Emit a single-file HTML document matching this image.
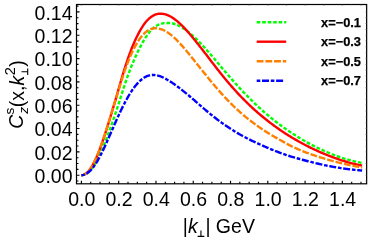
<!DOCTYPE html>
<html><head><meta charset="utf-8"><title>plot</title>
<style>html,body{margin:0;padding:0;background:#fff;}body{width:390px;height:243px;overflow:hidden;position:relative;font-family:"Liberation Sans",sans-serif;}text{fill:#000}</style>
</head><body>
<svg width="390" height="243" viewBox="0 0 390 243" style="position:absolute;left:0;top:0;will-change:transform">
<rect width="390" height="243" fill="#fff"/>
<path d="M81.40,175.20 L82.42,175.10 L83.44,174.88 L84.46,174.55 L85.47,174.10 L86.48,173.54 L87.47,172.86 L88.46,172.06 L89.43,171.16 L90.39,170.15 L91.34,169.03 L92.29,167.81 L93.23,166.48 L94.18,165.05 L95.12,163.53 L96.07,161.91 L97.01,160.21 L97.95,158.41 L98.88,156.53 L99.82,154.58 L100.75,152.54 L101.69,150.44 L102.62,148.26 L103.55,146.03 L104.48,143.73 L105.42,141.38 L106.35,138.97 L107.28,136.52 L108.21,134.02 L109.15,131.49 L110.08,128.92 L111.01,126.32 L111.94,123.68 L112.88,121.00 L113.81,118.30 L114.74,115.57 L115.67,112.83 L116.60,110.07 L117.50,107.31 L118.38,104.55 L119.26,101.79 L120.12,99.04 L120.99,96.31 L121.85,93.59 L122.72,90.87 L123.60,88.17 L124.49,85.49 L125.38,82.84 L126.27,80.22 L127.16,77.65 L128.06,75.11 L128.97,72.63 L129.90,70.20 L130.83,67.83 L131.76,65.51 L132.69,63.25 L133.63,61.04 L134.56,58.88 L135.49,56.78 L136.42,54.73 L137.36,52.73 L138.29,50.79 L139.22,48.91 L140.16,47.09 L141.09,45.32 L142.02,43.61 L142.95,41.95 L143.89,40.35 L144.82,38.81 L145.75,37.32 L146.68,35.90 L147.62,34.55 L148.55,33.26 L149.48,32.05 L150.41,30.91 L151.35,29.88 L152.28,28.95 L153.21,28.11 L154.14,27.35 L155.08,26.66 L156.01,26.03 L156.94,25.46 L157.87,24.95 L158.81,24.51 L159.74,24.14 L160.67,23.84 L161.61,23.58 L162.54,23.37 L163.47,23.19 L164.40,23.08 L165.34,23.02 L166.27,23.01 L167.20,23.02 L168.13,23.04 L169.07,23.06 L170.00,23.11 L170.93,23.20 L171.86,23.34 L172.80,23.52 L173.73,23.75 L174.66,24.01 L175.59,24.32 L176.53,24.67 L177.46,25.06 L178.39,25.48 L179.33,25.94 L180.26,26.43 L181.19,26.96 L182.12,27.52 L183.06,28.11 L183.99,28.72 L184.92,29.36 L185.85,30.03 L186.79,30.71 L187.72,31.43 L188.65,32.16 L189.58,32.91 L190.52,33.69 L191.45,34.49 L192.38,35.31 L193.31,36.15 L194.25,37.01 L195.18,37.88 L196.11,38.78 L197.04,39.69 L197.98,40.62 L198.91,41.57 L199.84,42.54 L200.78,43.52 L201.71,44.51 L202.64,45.52 L203.57,46.53 L204.51,47.55 L205.44,48.59 L206.37,49.63 L207.30,50.68 L208.24,51.74 L209.17,52.80 L210.10,53.87 L211.03,54.95 L211.97,56.03 L212.90,57.12 L213.83,58.21 L214.76,59.31 L215.70,60.42 L216.63,61.52 L217.56,62.63 L218.50,63.74 L219.43,64.85 L220.36,65.96 L221.29,67.07 L222.23,68.18 L223.16,69.29 L224.09,70.39 L225.02,71.49 L225.96,72.59 L226.89,73.68 L227.82,74.76 L228.75,75.84 L229.69,76.91 L230.62,77.98 L231.55,79.04 L232.48,80.09 L233.42,81.14 L234.35,82.19 L235.28,83.23 L236.21,84.26 L237.15,85.29 L238.08,86.31 L239.01,87.32 L239.95,88.33 L240.88,89.33 L241.81,90.33 L242.74,91.32 L243.68,92.30 L244.61,93.27 L245.54,94.24 L246.47,95.20 L247.41,96.15 L248.34,97.10 L249.27,98.03 L250.20,98.96 L251.14,99.89 L252.07,100.80 L253.00,101.71 L253.93,102.61 L254.87,103.51 L255.80,104.39 L256.73,105.27 L257.67,106.15 L258.60,107.01 L259.53,107.87 L260.46,108.72 L261.40,109.56 L262.33,110.40 L263.26,111.23 L264.19,112.05 L265.13,112.86 L266.06,113.66 L266.99,114.46 L267.92,115.25 L268.86,116.03 L269.79,116.80 L270.72,117.57 L271.65,118.33 L272.59,119.08 L273.52,119.82 L274.45,120.56 L275.38,121.29 L276.32,122.02 L277.25,122.73 L278.18,123.44 L279.12,124.14 L280.05,124.84 L280.98,125.53 L281.91,126.21 L282.85,126.89 L283.78,127.56 L284.71,128.22 L285.64,128.87 L286.58,129.52 L287.51,130.16 L288.44,130.80 L289.37,131.43 L290.31,132.05 L291.24,132.67 L292.17,133.28 L293.10,133.89 L294.04,134.49 L294.97,135.09 L295.90,135.68 L296.84,136.27 L297.77,136.85 L298.70,137.43 L299.63,138.00 L300.57,138.56 L301.50,139.12 L302.43,139.68 L303.36,140.23 L304.30,140.77 L305.23,141.30 L306.16,141.84 L307.09,142.36 L308.03,142.88 L308.96,143.39 L309.89,143.90 L310.82,144.40 L311.76,144.89 L312.69,145.38 L313.62,145.86 L314.55,146.34 L315.49,146.81 L316.42,147.27 L317.35,147.73 L318.29,148.18 L319.22,148.62 L320.15,149.06 L321.08,149.49 L322.02,149.91 L322.95,150.33 L323.88,150.75 L324.81,151.16 L325.75,151.56 L326.68,151.96 L327.61,152.36 L328.54,152.75 L329.48,153.14 L330.41,153.52 L331.34,153.89 L332.27,154.27 L333.21,154.63 L334.14,155.00 L335.07,155.36 L336.01,155.71 L336.94,156.06 L337.87,156.41 L338.80,156.75 L339.74,157.08 L340.67,157.41 L341.60,157.73 L342.53,158.03 L343.47,158.33 L344.40,158.61 L345.33,158.88 L346.26,159.15 L347.20,159.40 L348.13,159.66 L349.06,159.91 L349.99,160.15 L350.93,160.39 L351.86,160.64 L352.79,160.88 L353.72,161.11 L354.66,161.34 L355.59,161.57 L356.52,161.79 L357.46,162.01 L358.39,162.22 L359.32,162.42 L360.25,162.63 L361.19,162.83 L362.12,163.02" fill="none" stroke="#00ff00" stroke-width="2.4" stroke-dasharray="3.6 1.9" stroke-linejoin="round"/>
<path d="M81.40,175.20 L82.42,175.08 L83.44,174.81 L84.46,174.39 L85.47,173.82 L86.48,173.10 L87.47,172.23 L88.46,171.22 L89.43,170.07 L90.39,168.78 L91.34,167.35 L92.29,165.80 L93.23,164.11 L94.18,162.31 L95.12,160.39 L96.07,158.35 L97.01,156.21 L97.95,153.96 L98.88,151.61 L99.82,149.18 L100.75,146.66 L101.69,144.05 L102.62,141.38 L103.55,138.63 L104.48,135.82 L105.42,132.95 L106.35,130.04 L107.28,127.08 L108.21,124.07 L109.15,121.04 L110.08,117.98 L111.01,114.89 L111.94,111.79 L112.88,108.68 L113.81,105.56 L114.74,102.43 L115.67,99.29 L116.60,96.16 L117.50,93.04 L118.38,89.93 L119.26,86.85 L120.12,83.79 L120.99,80.76 L121.85,77.77 L122.72,74.82 L123.60,71.91 L124.49,69.06 L125.38,66.26 L126.27,63.51 L127.16,60.82 L128.06,58.18 L128.97,55.61 L129.90,53.10 L130.83,50.65 L131.76,48.28 L132.69,45.99 L133.63,43.77 L134.56,41.63 L135.49,39.57 L136.42,37.59 L137.36,35.68 L138.29,33.86 L139.22,32.11 L140.16,30.44 L141.09,28.84 L142.02,27.33 L142.95,25.90 L143.89,24.55 L144.82,23.28 L145.75,22.09 L146.68,21.00 L147.62,19.98 L148.55,19.06 L149.48,18.21 L150.41,17.44 L151.35,16.75 L152.28,16.14 L153.21,15.59 L154.14,15.12 L155.08,14.70 L156.01,14.36 L156.94,14.09 L157.87,13.89 L158.81,13.76 L159.74,13.69 L160.67,13.68 L161.61,13.72 L162.54,13.82 L163.47,13.96 L164.40,14.15 L165.34,14.39 L166.27,14.67 L167.20,15.00 L168.13,15.38 L169.07,15.80 L170.00,16.27 L170.93,16.79 L171.86,17.34 L172.80,17.93 L173.73,18.56 L174.66,19.23 L175.59,19.93 L176.53,20.66 L177.46,21.43 L178.39,22.23 L179.33,23.06 L180.26,23.92 L181.19,24.81 L182.12,25.72 L183.06,26.66 L183.99,27.62 L184.92,28.61 L185.85,29.61 L186.79,30.64 L187.72,31.68 L188.65,32.74 L189.58,33.82 L190.52,34.91 L191.45,36.01 L192.38,37.13 L193.31,38.26 L194.25,39.40 L195.18,40.56 L196.11,41.72 L197.04,42.88 L197.98,44.06 L198.91,45.24 L199.84,46.43 L200.78,47.62 L201.71,48.82 L202.64,50.02 L203.57,51.22 L204.51,52.42 L205.44,53.63 L206.37,54.84 L207.30,56.05 L208.24,57.27 L209.17,58.49 L210.10,59.71 L211.03,60.93 L211.97,62.15 L212.90,63.37 L213.83,64.58 L214.76,65.79 L215.70,67.00 L216.63,68.20 L217.56,69.40 L218.50,70.59 L219.43,71.78 L220.36,72.95 L221.29,74.12 L222.23,75.28 L223.16,76.43 L224.09,77.57 L225.02,78.70 L225.96,79.82 L226.89,80.93 L227.82,82.03 L228.75,83.12 L229.69,84.21 L230.62,85.28 L231.55,86.35 L232.48,87.41 L233.42,88.46 L234.35,89.50 L235.28,90.53 L236.21,91.55 L237.15,92.57 L238.08,93.57 L239.01,94.56 L239.95,95.55 L240.88,96.53 L241.81,97.50 L242.74,98.45 L243.68,99.40 L244.61,100.34 L245.54,101.27 L246.47,102.20 L247.41,103.11 L248.34,104.01 L249.27,104.91 L250.20,105.80 L251.14,106.67 L252.07,107.54 L253.00,108.40 L253.93,109.25 L254.87,110.10 L255.80,110.93 L256.73,111.75 L257.67,112.57 L258.60,113.38 L259.53,114.18 L260.46,114.97 L261.40,115.75 L262.33,116.53 L263.26,117.29 L264.19,118.05 L265.13,118.80 L266.06,119.55 L266.99,120.28 L267.92,121.01 L268.86,121.73 L269.79,122.45 L270.72,123.15 L271.65,123.86 L272.59,124.55 L273.52,125.24 L274.45,125.93 L275.38,126.60 L276.32,127.27 L277.25,127.94 L278.18,128.60 L279.12,129.25 L280.05,129.90 L280.98,130.54 L281.91,131.17 L282.85,131.80 L283.78,132.42 L284.71,133.03 L285.64,133.64 L286.58,134.24 L287.51,134.83 L288.44,135.42 L289.37,136.00 L290.31,136.57 L291.24,137.13 L292.17,137.69 L293.10,138.25 L294.04,138.80 L294.97,139.34 L295.90,139.88 L296.84,140.41 L297.77,140.94 L298.70,141.46 L299.63,141.98 L300.57,142.49 L301.50,143.00 L302.43,143.50 L303.36,144.00 L304.30,144.49 L305.23,144.98 L306.16,145.46 L307.09,145.94 L308.03,146.41 L308.96,146.88 L309.89,147.34 L310.82,147.80 L311.76,148.26 L312.69,148.71 L313.62,149.15 L314.55,149.59 L315.49,150.03 L316.42,150.46 L317.35,150.88 L318.29,151.30 L319.22,151.72 L320.15,152.13 L321.08,152.54 L322.02,152.94 L322.95,153.34 L323.88,153.73 L324.81,154.12 L325.75,154.50 L326.68,154.88 L327.61,155.25 L328.54,155.62 L329.48,155.98 L330.41,156.34 L331.34,156.70 L332.27,157.05 L333.21,157.39 L334.14,157.74 L335.07,158.07 L336.01,158.41 L336.94,158.74 L337.87,159.06 L338.80,159.39 L339.74,159.70 L340.67,160.02 L341.60,160.32 L342.53,160.62 L343.47,160.91 L344.40,161.20 L345.33,161.48 L346.26,161.75 L347.20,162.02 L348.13,162.29 L349.06,162.54 L349.99,162.80 L350.93,163.05 L351.86,163.29 L352.79,163.54 L353.72,163.77 L354.66,164.00 L355.59,164.22 L356.52,164.44 L357.46,164.65 L358.39,164.86 L359.32,165.06 L360.25,165.25 L361.19,165.45 L362.12,165.63" fill="none" stroke="#ff0000" stroke-width="2.4" stroke-linejoin="round"/>
<path d="M81.40,175.20 L82.42,175.08 L83.44,174.80 L84.46,174.37 L85.47,173.78 L86.48,173.04 L87.47,172.15 L88.46,171.11 L89.43,169.92 L90.39,168.60 L91.34,167.14 L92.29,165.55 L93.23,163.83 L94.18,161.98 L95.12,160.02 L96.07,157.95 L97.01,155.78 L97.95,153.50 L98.88,151.13 L99.82,148.67 L100.75,146.13 L101.69,143.51 L102.62,140.83 L103.55,138.08 L104.48,135.28 L105.42,132.43 L106.35,129.53 L107.28,126.60 L108.21,123.64 L109.15,120.65 L110.08,117.65 L111.01,114.64 L111.94,111.62 L112.88,108.60 L113.81,105.58 L114.74,102.58 L115.67,99.59 L116.60,96.63 L117.50,93.69 L118.38,90.78 L119.26,87.91 L120.12,85.08 L120.99,82.29 L121.85,79.54 L122.72,76.83 L123.60,74.17 L124.49,71.56 L125.38,69.01 L126.27,66.52 L127.16,64.09 L128.06,61.73 L128.97,59.45 L129.90,57.23 L130.83,55.09 L131.76,53.03 L132.69,51.05 L133.63,49.16 L134.56,47.35 L135.49,45.63 L136.42,43.99 L137.36,42.43 L138.29,40.95 L139.22,39.55 L140.16,38.24 L141.09,37.01 L142.02,35.86 L142.95,34.79 L143.89,33.80 L144.82,32.90 L145.75,32.08 L146.68,31.35 L147.62,30.70 L148.55,30.14 L149.48,29.66 L150.41,29.25 L151.35,28.92 L152.28,28.65 L153.21,28.45 L154.14,28.31 L155.08,28.25 L156.01,28.26 L156.94,28.32 L157.87,28.44 L158.81,28.60 L159.74,28.80 L160.67,29.05 L161.61,29.34 L162.54,29.69 L163.47,30.09 L164.40,30.53 L165.34,31.03 L166.27,31.56 L167.20,32.14 L168.13,32.76 L169.07,33.42 L170.00,34.12 L170.93,34.85 L171.86,35.62 L172.80,36.41 L173.73,37.25 L174.66,38.10 L175.59,38.99 L176.53,39.91 L177.46,40.84 L178.39,41.81 L179.33,42.79 L180.26,43.80 L181.19,44.82 L182.12,45.86 L183.06,46.92 L183.99,47.99 L184.92,49.08 L185.85,50.18 L186.79,51.29 L187.72,52.41 L188.65,53.55 L189.58,54.69 L190.52,55.84 L191.45,56.99 L192.38,58.15 L193.31,59.31 L194.25,60.48 L195.18,61.65 L196.11,62.83 L197.04,64.00 L197.98,65.18 L198.91,66.35 L199.84,67.53 L200.78,68.70 L201.71,69.87 L202.64,71.04 L203.57,72.21 L204.51,73.37 L205.44,74.53 L206.37,75.68 L207.30,76.83 L208.24,77.98 L209.17,79.12 L210.10,80.26 L211.03,81.39 L211.97,82.52 L212.90,83.64 L213.83,84.75 L214.76,85.86 L215.70,86.96 L216.63,88.05 L217.56,89.13 L218.50,90.21 L219.43,91.27 L220.36,92.33 L221.29,93.37 L222.23,94.41 L223.16,95.44 L224.09,96.45 L225.02,97.46 L225.96,98.45 L226.89,99.43 L227.82,100.40 L228.75,101.36 L229.69,102.31 L230.62,103.25 L231.55,104.18 L232.48,105.09 L233.42,106.00 L234.35,106.89 L235.28,107.78 L236.21,108.65 L237.15,109.51 L238.08,110.37 L239.01,111.21 L239.95,112.04 L240.88,112.86 L241.81,113.68 L242.74,114.48 L243.68,115.27 L244.61,116.06 L245.54,116.83 L246.47,117.60 L247.41,118.35 L248.34,119.10 L249.27,119.83 L250.20,120.56 L251.14,121.28 L252.07,121.99 L253.00,122.69 L253.93,123.39 L254.87,124.07 L255.80,124.75 L256.73,125.42 L257.67,126.08 L258.60,126.74 L259.53,127.38 L260.46,128.02 L261.40,128.66 L262.33,129.28 L263.26,129.90 L264.19,130.51 L265.13,131.12 L266.06,131.72 L266.99,132.31 L267.92,132.89 L268.86,133.47 L269.79,134.05 L270.72,134.61 L271.65,135.18 L272.59,135.73 L273.52,136.28 L274.45,136.82 L275.38,137.36 L276.32,137.90 L277.25,138.42 L278.18,138.95 L279.12,139.47 L280.05,140.00 L280.98,140.53 L281.91,141.06 L282.85,141.59 L283.78,142.12 L284.71,142.64 L285.64,143.16 L286.58,143.68 L287.51,144.18 L288.44,144.68 L289.37,145.17 L290.31,145.64 L291.24,146.10 L292.17,146.54 L293.10,146.98 L294.04,147.41 L294.97,147.84 L295.90,148.26 L296.84,148.67 L297.77,149.08 L298.70,149.49 L299.63,149.89 L300.57,150.28 L301.50,150.67 L302.43,151.05 L303.36,151.42 L304.30,151.79 L305.23,152.15 L306.16,152.51 L307.09,152.86 L308.03,153.21 L308.96,153.55 L309.89,153.88 L310.82,154.21 L311.76,154.53 L312.69,154.85 L313.62,155.17 L314.55,155.48 L315.49,155.79 L316.42,156.10 L317.35,156.40 L318.29,156.70 L319.22,157.00 L320.15,157.30 L321.08,157.59 L322.02,157.88 L322.95,158.17 L323.88,158.45 L324.81,158.74 L325.75,159.01 L326.68,159.29 L327.61,159.56 L328.54,159.83 L329.48,160.10 L330.41,160.36 L331.34,160.62 L332.27,160.88 L333.21,161.14 L334.14,161.39 L335.07,161.64 L336.01,161.88 L336.94,162.13 L337.87,162.37 L338.80,162.60 L339.74,162.84 L340.67,163.07 L341.60,163.29 L342.53,163.52 L343.47,163.73 L344.40,163.95 L345.33,164.16 L346.26,164.37 L347.20,164.57 L348.13,164.77 L349.06,164.97 L349.99,165.17 L350.93,165.36 L351.86,165.55 L352.79,165.74 L353.72,165.93 L354.66,166.11 L355.59,166.30 L356.52,166.47 L357.46,166.65 L358.39,166.82 L359.32,166.99 L360.25,167.16 L361.19,167.32 L362.12,167.49" fill="none" stroke="#ff8000" stroke-width="2.4" stroke-dasharray="6.8 1.9" stroke-linejoin="round"/>
<path d="M81.40,175.20 L82.42,175.11 L83.43,174.90 L84.45,174.60 L85.45,174.18 L86.46,173.66 L87.45,173.04 L88.44,172.31 L89.42,171.49 L90.39,170.56 L91.35,169.53 L92.31,168.42 L93.27,167.21 L94.23,165.91 L95.18,164.53 L96.14,163.06 L97.09,161.52 L98.03,159.91 L98.98,158.23 L99.92,156.49 L100.85,154.69 L101.79,152.83 L102.72,150.93 L103.65,148.98 L104.58,146.98 L105.52,144.96 L106.45,142.90 L107.38,140.82 L108.31,138.71 L109.25,136.59 L110.18,134.46 L111.11,132.32 L112.04,130.18 L112.98,128.04 L113.91,125.91 L114.84,123.79 L115.77,121.68 L116.71,119.59 L117.64,117.52 L118.57,115.48 L119.50,113.47 L120.44,111.48 L121.37,109.54 L122.30,107.63 L123.24,105.76 L124.17,103.93 L125.10,102.15 L126.02,100.42 L126.95,98.74 L127.88,97.10 L128.80,95.52 L129.72,94.00 L130.65,92.53 L131.57,91.12 L132.49,89.76 L133.41,88.47 L134.33,87.23 L135.25,86.05 L136.16,84.94 L137.07,83.88 L137.97,82.88 L138.87,81.95 L139.77,81.07 L140.66,80.26 L141.56,79.50 L142.45,78.80 L143.34,78.17 L144.23,77.59 L145.13,77.06 L146.02,76.60 L146.90,76.20 L147.78,75.86 L148.66,75.58 L149.55,75.36 L150.44,75.20 L151.35,75.09 L152.28,75.02 L153.21,75.01 L154.14,75.04 L155.08,75.11 L156.01,75.23 L156.94,75.40 L157.87,75.61 L158.81,75.86 L159.74,76.15 L160.67,76.49 L161.61,76.85 L162.54,77.25 L163.47,77.68 L164.40,78.14 L165.34,78.63 L166.27,79.14 L167.20,79.67 L168.13,80.22 L169.07,80.79 L170.00,81.37 L170.93,81.97 L171.86,82.58 L172.80,83.20 L173.73,83.84 L174.66,84.49 L175.59,85.15 L176.53,85.82 L177.46,86.51 L178.39,87.21 L179.33,87.91 L180.26,88.63 L181.19,89.36 L182.12,90.09 L183.06,90.84 L183.99,91.60 L184.92,92.36 L185.85,93.13 L186.79,93.90 L187.72,94.67 L188.65,95.44 L189.58,96.21 L190.52,96.99 L191.45,97.77 L192.38,98.56 L193.31,99.37 L194.25,100.18 L195.18,101.00 L196.11,101.82 L197.04,102.65 L197.98,103.47 L198.91,104.29 L199.84,105.11 L200.78,105.92 L201.71,106.73 L202.64,107.54 L203.57,108.34 L204.51,109.14 L205.44,109.93 L206.37,110.72 L207.30,111.50 L208.24,112.27 L209.17,113.04 L210.10,113.81 L211.03,114.56 L211.97,115.31 L212.90,116.06 L213.83,116.80 L214.76,117.53 L215.70,118.25 L216.63,118.97 L217.56,119.68 L218.50,120.38 L219.43,121.07 L220.36,121.76 L221.29,122.44 L222.23,123.11 L223.16,123.78 L224.09,124.44 L225.02,125.09 L225.96,125.73 L226.89,126.36 L227.82,126.99 L228.75,127.61 L229.69,128.22 L230.62,128.83 L231.55,129.43 L232.48,130.02 L233.42,130.60 L234.35,131.18 L235.28,131.74 L236.21,132.30 L237.15,132.86 L238.08,133.40 L239.01,133.94 L239.95,134.48 L240.88,135.00 L241.81,135.52 L242.74,136.03 L243.68,136.54 L244.61,137.04 L245.54,137.53 L246.47,138.02 L247.41,138.50 L248.34,138.97 L249.27,139.44 L250.20,139.90 L251.14,140.35 L252.07,140.80 L253.00,141.24 L253.93,141.68 L254.87,142.11 L255.80,142.54 L256.73,142.97 L257.67,143.40 L258.60,143.83 L259.53,144.25 L260.46,144.68 L261.40,145.10 L262.33,145.52 L263.26,145.94 L264.19,146.35 L265.13,146.76 L266.06,147.17 L266.99,147.57 L267.92,147.97 L268.86,148.37 L269.79,148.75 L270.72,149.14 L271.65,149.51 L272.59,149.88 L273.52,150.25 L274.45,150.62 L275.38,150.99 L276.32,151.35 L277.25,151.71 L278.18,152.07 L279.12,152.43 L280.05,152.78 L280.98,153.13 L281.91,153.47 L282.85,153.81 L283.78,154.14 L284.71,154.47 L285.64,154.79 L286.58,155.10 L287.51,155.41 L288.44,155.72 L289.37,156.01 L290.31,156.30 L291.24,156.58 L292.17,156.86 L293.10,157.14 L294.04,157.41 L294.97,157.68 L295.90,157.95 L296.84,158.22 L297.77,158.48 L298.70,158.75 L299.63,159.01 L300.57,159.26 L301.50,159.52 L302.43,159.77 L303.36,160.02 L304.30,160.27 L305.23,160.52 L306.16,160.76 L307.09,161.01 L308.03,161.25 L308.96,161.48 L309.89,161.72 L310.82,161.95 L311.76,162.19 L312.69,162.42 L313.62,162.64 L314.55,162.87 L315.49,163.09 L316.42,163.32 L317.35,163.54 L318.29,163.76 L319.22,163.97 L320.15,164.19 L321.08,164.40 L322.02,164.61 L322.95,164.81 L323.88,165.01 L324.81,165.20 L325.75,165.39 L326.68,165.58 L327.61,165.77 L328.54,165.95 L329.48,166.12 L330.41,166.30 L331.34,166.47 L332.27,166.64 L333.21,166.81 L334.14,166.97 L335.07,167.13 L336.01,167.29 L336.94,167.45 L337.87,167.61 L338.80,167.76 L339.74,167.91 L340.67,168.06 L341.60,168.21 L342.53,168.35 L343.47,168.48 L344.40,168.62 L345.33,168.74 L346.26,168.87 L347.20,168.99 L348.13,169.11 L349.06,169.22 L349.99,169.34 L350.93,169.45 L351.86,169.56 L352.79,169.66 L353.72,169.76 L354.66,169.86 L355.59,169.96 L356.52,170.05 L357.46,170.14 L358.39,170.23 L359.32,170.31 L360.25,170.39 L361.19,170.46 L362.12,170.54" fill="none" stroke="#0000ff" stroke-width="2.4" stroke-dasharray="3.6 1.7 7 1.8" stroke-linejoin="round"/>
<rect x="76.5" y="4.5" width="290.15" height="179.30" fill="none" stroke="#000" stroke-width="1.2"/>
<path d="M81.40,183.8 v-3.0 M90.72,183.8 v-2.0 M100.04,183.8 v-2.0 M109.36,183.8 v-2.0 M118.68,183.8 v-3.0 M128.00,183.8 v-2.0 M137.32,183.8 v-2.0 M146.64,183.8 v-2.0 M155.96,183.8 v-3.0 M165.28,183.8 v-2.0 M174.60,183.8 v-2.0 M183.92,183.8 v-2.0 M193.24,183.8 v-3.0 M202.56,183.8 v-2.0 M211.88,183.8 v-2.0 M221.20,183.8 v-2.0 M230.52,183.8 v-3.0 M239.84,183.8 v-2.0 M249.16,183.8 v-2.0 M258.48,183.8 v-2.0 M267.80,183.8 v-3.0 M277.12,183.8 v-2.0 M286.44,183.8 v-2.0 M295.76,183.8 v-2.0 M305.08,183.8 v-3.0 M314.40,183.8 v-2.0 M323.72,183.8 v-2.0 M333.04,183.8 v-2.0 M342.36,183.8 v-3.0 M351.68,183.8 v-2.0 M361.00,183.8 v-2.0 M76.5,181.03 h2.0 M76.5,175.20 h3.0 M76.5,169.37 h2.0 M76.5,163.53 h2.0 M76.5,157.70 h2.0 M76.5,151.87 h3.0 M76.5,146.04 h2.0 M76.5,140.20 h2.0 M76.5,134.37 h2.0 M76.5,128.54 h3.0 M76.5,122.71 h2.0 M76.5,116.87 h2.0 M76.5,111.04 h2.0 M76.5,105.21 h3.0 M76.5,99.38 h2.0 M76.5,93.54 h2.0 M76.5,87.71 h2.0 M76.5,81.88 h3.0 M76.5,76.05 h2.0 M76.5,70.21 h2.0 M76.5,64.38 h2.0 M76.5,58.55 h3.0 M76.5,52.72 h2.0 M76.5,46.88 h2.0 M76.5,41.05 h2.0 M76.5,35.22 h3.0 M76.5,29.39 h2.0 M76.5,23.55 h2.0 M76.5,17.72 h2.0 M76.5,11.89 h3.0 M76.5,6.06 h2.0" stroke="#000" stroke-width="1.15" fill="none"/>
<path d="M81.40,4.5 v1.6 M90.72,4.5 v0.9 M100.04,4.5 v1.6 M109.36,4.5 v0.9 M118.68,4.5 v1.6 M128.00,4.5 v0.9 M137.32,4.5 v1.6 M146.64,4.5 v0.9 M155.96,4.5 v1.6 M165.28,4.5 v0.9 M174.60,4.5 v1.6 M183.92,4.5 v0.9 M193.24,4.5 v1.6 M202.56,4.5 v0.9 M211.88,4.5 v1.6 M221.20,4.5 v0.9 M230.52,4.5 v1.6 M239.84,4.5 v0.9 M249.16,4.5 v1.6 M258.48,4.5 v0.9 M267.80,4.5 v1.6 M277.12,4.5 v0.9 M286.44,4.5 v1.6 M295.76,4.5 v0.9 M305.08,4.5 v1.6 M314.40,4.5 v0.9 M323.72,4.5 v1.6 M333.04,4.5 v0.9 M342.36,4.5 v1.6 M351.68,4.5 v0.9 M361.00,4.5 v1.6 M366.65,181.03 h-1.4 M366.65,175.20 h-1.4 M366.65,169.37 h-1.4 M366.65,163.53 h-1.4 M366.65,157.70 h-1.4 M366.65,151.87 h-1.4 M366.65,146.04 h-1.4 M366.65,140.20 h-1.4 M366.65,134.37 h-1.4 M366.65,128.54 h-1.4 M366.65,122.71 h-1.4 M366.65,116.87 h-1.4 M366.65,111.04 h-1.4 M366.65,105.21 h-1.4 M366.65,99.38 h-1.4 M366.65,93.54 h-1.4 M366.65,87.71 h-1.4 M366.65,81.88 h-1.4 M366.65,76.05 h-1.4 M366.65,70.21 h-1.4 M366.65,64.38 h-1.4 M366.65,58.55 h-1.4 M366.65,52.72 h-1.4 M366.65,46.88 h-1.4 M366.65,41.05 h-1.4 M366.65,35.22 h-1.4 M366.65,29.39 h-1.4 M366.65,23.55 h-1.4 M366.65,17.72 h-1.4 M366.65,11.89 h-1.4 M366.65,6.06 h-1.4" stroke="#666" stroke-width="0.5" fill="none"/>
<path d="M256.7,22.3 H286.2" fill="none" stroke="#00ff00" stroke-width="2.4" stroke-dasharray="3.6 1.9"/>
<path d="M256.7,41.7 H286.2" fill="none" stroke="#ff0000" stroke-width="2.4"/>
<path d="M256.7,61.2 H286.2" fill="none" stroke="#ff8000" stroke-width="2.4" stroke-dasharray="6.8 1.9"/>
<path d="M256.7,80.7 H284.6" fill="none" stroke="#0000ff" stroke-width="2.4" stroke-dasharray="3.6 1.7 7 1.8"/>
<text x="72.5" y="183.10" font-family="Liberation Sans, sans-serif" font-size="19.5" text-anchor="end">0.00</text>
<text x="72.5" y="159.77" font-family="Liberation Sans, sans-serif" font-size="19.5" text-anchor="end">0.02</text>
<text x="72.5" y="136.44" font-family="Liberation Sans, sans-serif" font-size="19.5" text-anchor="end">0.04</text>
<text x="72.5" y="113.11" font-family="Liberation Sans, sans-serif" font-size="19.5" text-anchor="end">0.06</text>
<text x="72.5" y="89.78" font-family="Liberation Sans, sans-serif" font-size="19.5" text-anchor="end">0.08</text>
<text x="72.5" y="66.45" font-family="Liberation Sans, sans-serif" font-size="19.5" text-anchor="end">0.10</text>
<text x="72.5" y="43.12" font-family="Liberation Sans, sans-serif" font-size="19.5" text-anchor="end">0.12</text>
<text x="72.5" y="19.79" font-family="Liberation Sans, sans-serif" font-size="19.5" text-anchor="end">0.14</text>
<text x="81.70" y="205.7" font-family="Liberation Sans, sans-serif" font-size="19.5" text-anchor="middle">0.0</text>
<text x="118.98" y="205.7" font-family="Liberation Sans, sans-serif" font-size="19.5" text-anchor="middle">0.2</text>
<text x="156.26" y="205.7" font-family="Liberation Sans, sans-serif" font-size="19.5" text-anchor="middle">0.4</text>
<text x="193.54" y="205.7" font-family="Liberation Sans, sans-serif" font-size="19.5" text-anchor="middle">0.6</text>
<text x="230.82" y="205.7" font-family="Liberation Sans, sans-serif" font-size="19.5" text-anchor="middle">0.8</text>
<text x="268.10" y="205.7" font-family="Liberation Sans, sans-serif" font-size="19.5" text-anchor="middle">1.0</text>
<text x="305.38" y="205.7" font-family="Liberation Sans, sans-serif" font-size="19.5" text-anchor="middle">1.2</text>
<text x="342.66" y="205.7" font-family="Liberation Sans, sans-serif" font-size="19.5" text-anchor="middle">1.4</text>
<text x="321.0" y="26.90" font-family="Liberation Sans, sans-serif" font-size="12.85" font-weight="bold" stroke="#000" stroke-width="0.25">x=−0.1</text>
<text x="321.0" y="46.30" font-family="Liberation Sans, sans-serif" font-size="12.85" font-weight="bold" stroke="#000" stroke-width="0.25">x=−0.3</text>
<text x="321.0" y="65.80" font-family="Liberation Sans, sans-serif" font-size="12.85" font-weight="bold" stroke="#000" stroke-width="0.25">x=−0.5</text>
<text x="321.0" y="85.30" font-family="Liberation Sans, sans-serif" font-size="12.85" font-weight="bold" stroke="#000" stroke-width="0.25">x=−0.7</text>
<text x="182.8" y="232.7" font-family="Liberation Sans, sans-serif" font-size="19.5">|<tspan font-style="italic">k</tspan></text>
<path d="M197.6,236.39999999999998 h6.7 M200.95,236.39999999999998 v-5.8" stroke="#000" stroke-width="1.1" fill="none"/>
<text x="205.4" y="232.7" font-family="Liberation Sans, sans-serif" font-size="19.5">| GeV</text>
<g transform="translate(23.5,127) rotate(-90)"><text x="-1.8" y="-0.5" font-family="Liberation Sans, sans-serif" font-size="19.5" font-style="italic">C</text><text x="12.5" y="-9.3" font-family="Liberation Sans, sans-serif" font-size="13.65">s</text><text x="13.2" y="4.8" font-family="Liberation Sans, sans-serif" font-size="13.65" font-style="italic">z</text><text x="19.8" y="0" font-family="Liberation Sans, sans-serif" font-size="19.5">(x,</text><text x="41.4" y="0" font-family="Liberation Sans, sans-serif" font-size="19.5" font-style="italic">k</text><text x="51.8" y="-8.5" font-family="Liberation Sans, sans-serif" font-size="14.6">2</text><path d="M52.1,4.2 h6.4 M55.3,4.2 v-6.2" stroke="#000" stroke-width="1.1" fill="none"/><text x="60.3" y="0" font-family="Liberation Sans, sans-serif" font-size="19.5">)</text></g>
</svg>
</body></html>
